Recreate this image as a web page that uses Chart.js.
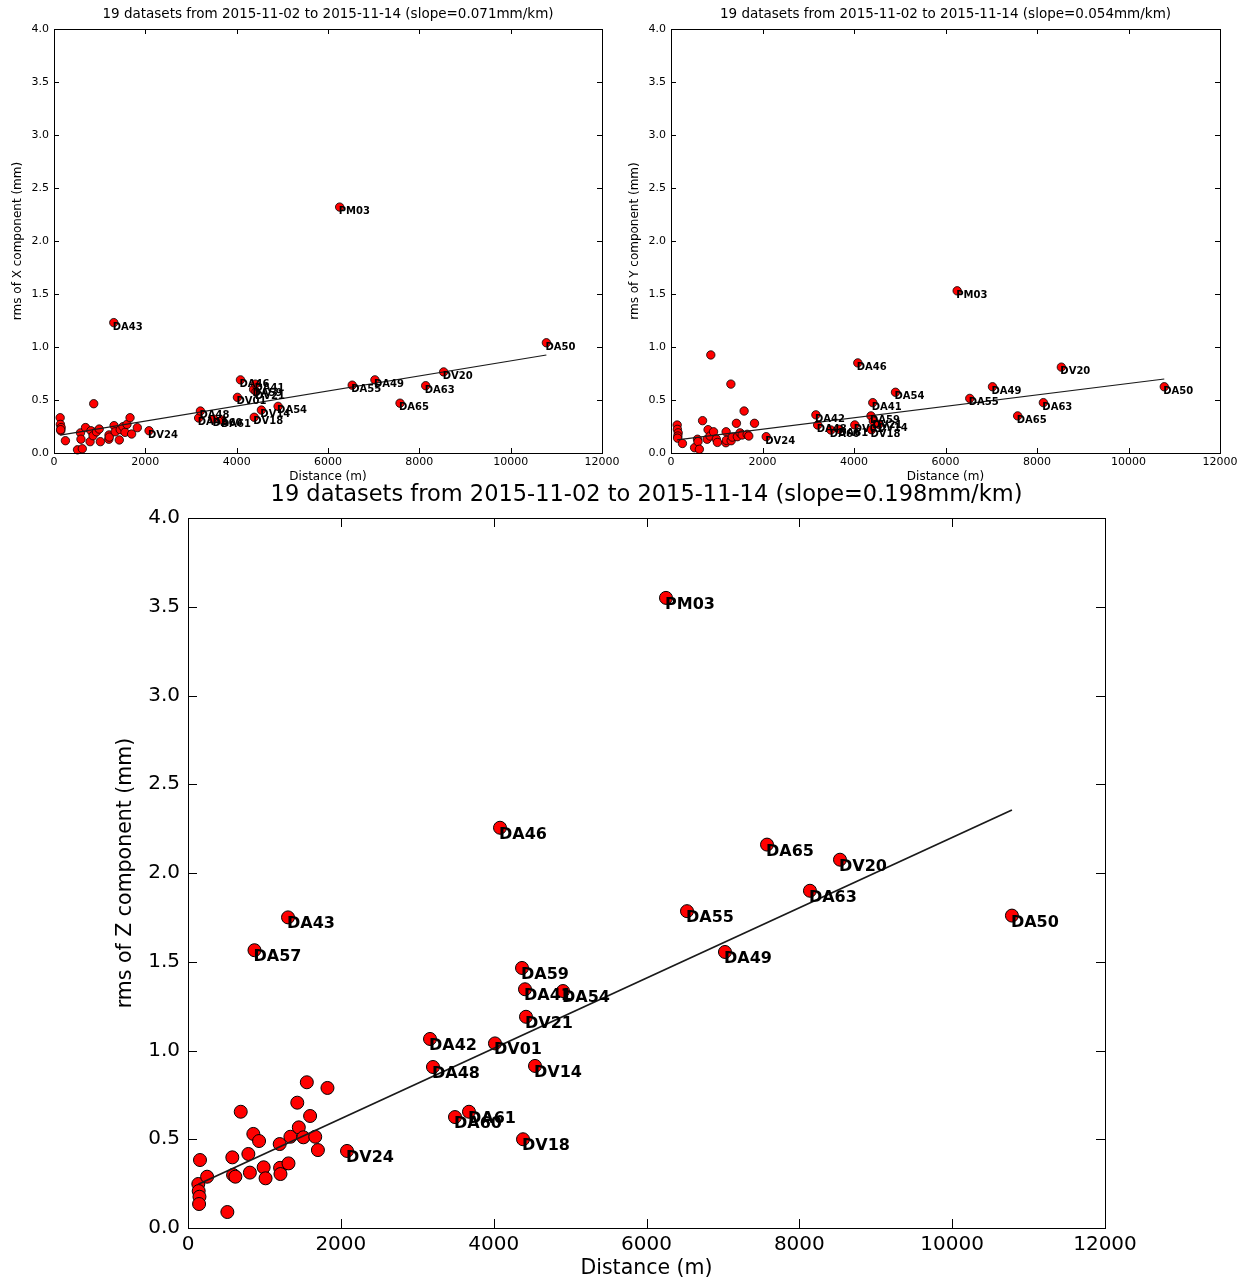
<!DOCTYPE html>
<html>
<head>
<meta charset="utf-8">
<title>rms vs distance</title>
<script src="https://cdn.jsdelivr.net/npm/chart.js@4/dist/chart.umd.min.js"></script>
<style>
  html, body { margin: 0; padding: 0; background: #fff; }
  #wrap { position: relative; width: 1246px; height: 1281px; }
  canvas { position: absolute; }
  #chart-x { left: 0; top: 0; }
  #chart-y { left: 617px; top: 0; }
  #chart-z { left: 0; top: 480px; }
</style>
</head>
<body>
<div id="wrap">
  <canvas id="chart-x" width="623" height="484"></canvas>
  <canvas id="chart-y" width="629" height="484"></canvas>
  <canvas id="chart-z" width="1246" height="801"></canvas>
</div>
<script>
// stations (unnamed ones are the short baselines near the reference)
const stations = [
  'PM03', 'DA46', 'DA65', 'DV20', 'DA63', 'DA50', 'DA55', 'DA49', 'DA43', 'DA57', 'DA59',
  'DA41', 'DA54', 'DV21', 'DA42', 'DV01', 'DA48', 'DV14', 'DA61', 'DA60', 'DV18', 'DV24',
  '', '', '', '', '', '', '', '', '', '',
  '', '', '', '', '', '', '', '', '', '',
  '', '', '', '', '', '', '', '', '', ''
];
// distance (m)
const distance = [
  6255, 4083, 7577, 8532, 8139, 10782, 6530, 7027, 1309, 870, 4371,
  4410, 4907, 4423, 3167, 4017, 3206, 4541, 3677, 3494, 4384, 2081,
  135, 140, 157, 150, 145, 250, 515, 580, 590, 620,
  690, 790, 810, 855, 930, 990, 1015, 1200, 1205, 1210,
  1315, 1340, 1430, 1450, 1510, 1555, 1598, 1665, 1700, 1825
];
// rms per component (mm)
const rmsX = [
  2.32, 0.69, 0.47, 0.765, 0.635, 1.04, 0.64, 0.69, 1.23, 0.465, 0.60,
  0.65, 0.44, 0.58, 0.33, 0.525, 0.396, 0.405, 0.31, 0.32, 0.337, 0.21,
  0.333, 0.27, 0.24, 0.21, 0.22, 0.116, 0.03, 0.19, 0.13, 0.04,
  0.24, 0.107, 0.21, 0.163, 0.20, 0.226, 0.107, 0.13, 0.17, 0.15,
  0.258, 0.20, 0.123, 0.22, 0.248, 0.195, 0.27, 0.333, 0.179, 0.239
];
const rmsY = [
  1.53, 0.85, 0.35, 0.81, 0.475, 0.625, 0.515, 0.625, 0.65, 0.925, 0.35,
  0.475, 0.573, 0.30, 0.36, 0.265, 0.264, 0.27, 0.223, 0.217, 0.22, 0.154,
  0.264, 0.223, 0.19, 0.16, 0.14, 0.09, 0.05, 0.13, 0.107, 0.035,
  0.305, 0.13, 0.22, 0.16, 0.20, 0.132, 0.10, 0.097, 0.20, 0.12,
  0.116, 0.15, 0.28, 0.154, 0.19, 0.17, 0.396, 0.176, 0.16, 0.28
];
const rmsZ = [
  3.55, 2.255, 2.16, 2.075, 1.90, 1.76, 1.785, 1.555, 1.75, 1.565, 1.465,
  1.345, 1.335, 1.19, 1.065, 1.04, 0.907, 0.913, 0.655, 0.625, 0.50, 0.434,
  0.248, 0.208, 0.383, 0.176, 0.135, 0.289, 0.090, 0.398, 0.299, 0.289,
  0.655, 0.417, 0.312, 0.530, 0.490, 0.342, 0.280, 0.473, 0.339, 0.304,
  0.364, 0.514, 0.706, 0.567, 0.511, 0.821, 0.631, 0.514, 0.439, 0.789
];
// linear fit per component: slope (mm/km) and intercept (mm)
const slopes = [0.071, 0.054, 0.198];
const intercepts = [0.159, 0.116, 0.220];

const nDatasets = 19;
const startDate = '2015-11-02';
const endDate = '2015-11-14';
const xTicks = [0, 12000, 2000];   // min, max, step
const yTicks = [0, 4, 0.5];

Chart.defaults.font.family = 'DejaVu Sans';
Chart.defaults.color = '#000';

// frame, inward ticks on all four sides, and station names
const frameAndLabels = {
  id: 'frameAndLabels',
  afterDatasetsDraw(chart, args, o) {
    const ctx = chart.ctx;
    const a = chart.chartArea;
    const x = chart.scales.x, y = chart.scales.y;
    ctx.save();
    ctx.strokeStyle = '#000';
    ctx.lineWidth = 1;
    ctx.strokeRect(a.left + 0.5, a.top + 0.5, a.right - a.left, a.bottom - a.top);
    ctx.beginPath();
    x.ticks.forEach(t => {
      const px = Math.round(x.getPixelForValue(t.value)) + 0.5;
      ctx.moveTo(px, a.bottom); ctx.lineTo(px, a.bottom - o.tickLen);
      ctx.moveTo(px, a.top); ctx.lineTo(px, a.top + o.tickLen);
    });
    y.ticks.forEach(t => {
      const py = Math.round(y.getPixelForValue(t.value)) + 0.5;
      ctx.moveTo(a.left, py); ctx.lineTo(a.left + o.tickLen, py);
      ctx.moveTo(a.right, py); ctx.lineTo(a.right - o.tickLen, py);
    });
    ctx.stroke();

    ctx.font = o.font;
    ctx.fillStyle = '#000';
    ctx.textBaseline = 'alphabetic';
    const meta = chart.getDatasetMeta(0);
    meta.data.forEach((pt, i) => {
      const name = stations[i];
      if (!name) return;
      if (distance[i] <= 2000 && o.values[i] <= 1.0) return;
      ctx.fillText(name, pt.x + o.dx, pt.y + o.dy);
    });
    ctx.restore();
  }
};

function makeChart(id, comp, values, slope, intercept, s) {
  const points = distance.map((d, i) => ({ x: d, y: values[i] }));
  const dMin = Math.min(...distance), dMax = Math.max(...distance);
  const fit = [dMin, dMax].map(d => ({ x: d, y: intercept + slope * d / 1000 }));

  return new Chart(document.getElementById(id), {
    type: 'scatter',
    data: {
      datasets: [
        {
          data: points,
          backgroundColor: '#ff0000',
          borderColor: '#000',
          borderWidth: s.border,
          pointRadius: s.radius,
          clip: false,
          order: 2
        },
        {
          type: 'line',
          data: fit,
          borderColor: '#1a1a1a',
          borderWidth: s.lineWidth,
          pointRadius: 0,
          fill: false,
          order: 1
        }
      ]
    },
    options: {
      responsive: false,
      animation: false,
      events: [],
      layout: { padding: 0 },
      plugins: {
        legend: { display: false },
        tooltip: { enabled: false },
        title: {
          display: true,
          fullSize: false,
          text: `${nDatasets} datasets from ${startDate} to ${endDate} (slope=${slope.toFixed(3)}mm/km)`,
          font: { size: s.titleFont, weight: 'normal' },
          color: '#000',
          padding: s.titlePad
        },
        frameAndLabels: {
          values: values,
          font: `bold ${s.labelFont}px "DejaVu Sans"`,
          dx: -1,
          dy: s.labelDy,
          tickLen: s.tickLen
        }
      },
      scales: {
        x: {
          type: 'linear',
          position: 'bottom',
          min: xTicks[0], max: xTicks[1],
          ticks: { stepSize: xTicks[2], padding: s.xTickPad, font: { size: s.tickFont }, callback: v => String(v) },
          grid: { display: false, drawTicks: false },
          border: { display: false },
          title: { display: true, text: 'Distance (m)', font: { size: s.axisFont }, padding: { top: 0, bottom: 0 } },
          afterFit: sc => { sc.height = s.xHeight; }
        },
        y: {
          type: 'linear',
          position: 'left',
          min: yTicks[0], max: yTicks[1],
          ticks: { stepSize: yTicks[2], padding: s.yTickPad, font: { size: s.tickFont }, callback: v => v.toFixed(1) },
          grid: { display: false, drawTicks: false },
          border: { display: false },
          title: { display: true, text: `rms of ${comp} component (mm)`, font: { size: s.axisFont }, padding: { top: s.yTitlePad, bottom: 0 } },
          afterFit: sc => { sc.width = s.yWidth; }
        },
        y2: {
          type: 'linear',
          position: 'right',
          display: true,
          ticks: { display: false },
          grid: { display: false, drawTicks: false },
          border: { display: false },
          afterFit: sc => { sc.width = s.y2Width; }
        }
      }
    },
    plugins: [frameAndLabels]
  });
}

const small = {
  titleFont: 13.5, titlePad: { top: 6, bottom: 6.8 }, tickFont: 11, axisFont: 12,
  yWidth: 54, y2Width: 21, xHeight: 31, yTickPad: 5, xTickPad: 3, yTitlePad: 11,
  radius: 4.2, border: 0.8, lineWidth: 1.2, labelFont: 10, labelDy: 7, tickLen: 5
};

makeChart('chart-x', 'X', rmsX, slopes[0], intercepts[0], small);
makeChart('chart-y', 'Y', rmsY, slopes[1], intercepts[1], Object.assign({}, small, { y2Width: 26 }));
makeChart('chart-z', 'Z', rmsZ, slopes[2], intercepts[2], {
  titleFont: 22.5, titlePad: { top: 1.5, bottom: 9.5 }, tickFont: 20, axisFont: 20.5,
  yWidth: 188, y2Width: 141, xHeight: 53, yTickPad: 8, xTickPad: 5, yTitlePad: 113,
  radius: 6.5, border: 1, lineWidth: 1.8, labelFont: 16, labelDy: 11, tickLen: 9
});
</script>
</body>
</html>
